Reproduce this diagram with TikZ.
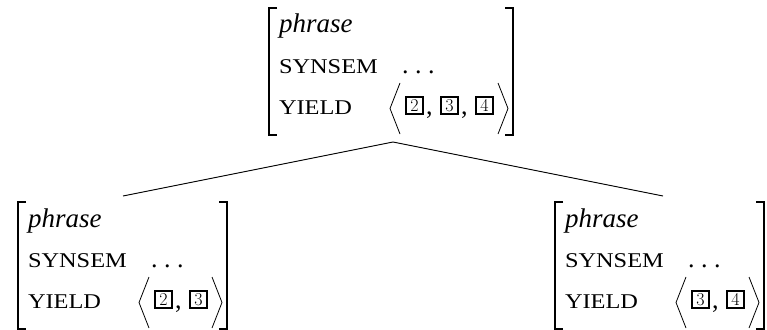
\documentclass[tikz,border=0pt]{standalone}
\usepackage{fontspec}
\usepackage{graphicx}
\newfontfamily\tms{Liberation Serif}
\newcommand\phrfont{\tms\itshape\fontsize{27}{31}\selectfont}
\newcommand\scfont{\tms\fontsize{21}{24}\selectfont}
\newcommand\bigrmfont{\tms\fontsize{26}{30}\selectfont}
\newcommand\tagfont{\fontsize{18}{18}\selectfont}
\tikzset{
  lbl/.style={anchor=base west, inner sep=0pt, outer sep=0pt},
  brk/.style={line width=1.3pt},
  ang/.style={line width=0.8pt},
  tagbox/.style={draw, line width=1.4pt, minimum size=17pt, inner sep=0pt, font=\tagfont},
  edge/.style={line width=0.9pt}
}
% #1 name, #2 left x, #3 top y, #4 number of tags, #5 tag list
\newcommand\AVM[5]{%
\begin{scope}[shift={(#2,#3)}]
  \pgfmathsetmacro\lastr{154+35*(#4-1)}
  \pgfmathsetmacro\rx{174+35*(#4-1)}
  \draw[brk] (8,0) -- (0,0) -- (0,127) -- (8,127);
  \draw[brk] (\rx-8,0) -- (\rx,0) -- (\rx,127) -- (\rx-8,127);
  \node[lbl, font=\phrfont] (#1-type) at (10,25) {phrase};
  \node[lbl, font=\scfont] (#1-synsem) at (10,65) {\scalebox{1.16}[1]{SYNSEM}};
  \node[lbl, font=\scfont] (#1-yield) at (10,106) {\scalebox{1.16}[1]{YIELD}};
  \node[lbl, font=\bigrmfont] (#1-dots) at (133,65) {.\kern6.5pt.\kern6.5pt.};
  \draw[ang] (131,75) -- (121,100.5) -- (131,126);
  \foreach \d [count=\i] in {#5} {
    \node[tagbox] (#1-tag\i) at ({145.5+35*(\i-1)},97.5) {\d};
    \ifnum\i<#4
      \node[lbl, font=\bigrmfont] (#1-comma\i) at ({157+35*(\i-1)},106) {,};
    \fi
  }
  \draw[ang] (\lastr+5,75) -- (\lastr+15,100.5) -- (\lastr+5,126);
\end{scope}}

\begin{document}
\begin{tikzpicture}[x=1pt,y=-1pt]
  \useasboundingbox (0,0) rectangle (767,329);
  \AVM{top}{269}{8}{3}{2,3,4}
  \AVM{left}{18}{202}{2}{2,3}
  \AVM{right}{555}{202}{2}{3,4}
  \coordinate (top-foot) at (393,142);
  \coordinate (left-head) at (123,196);
  \coordinate (right-head) at (663,196);
  \draw[edge] (left-head) -- (top-foot) -- (right-head);
\end{tikzpicture}
\end{document}
